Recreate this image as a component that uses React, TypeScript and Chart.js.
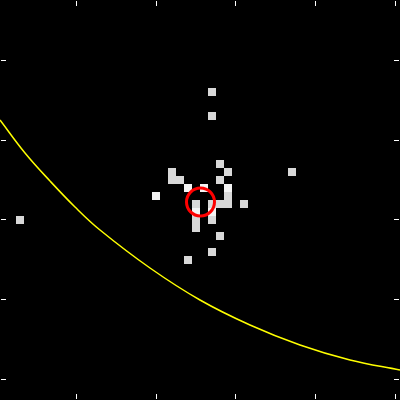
import React, { useEffect, useRef } from "react";
import { Chart, registerables } from "chart.js";

Chart.register(...registerables);

// Pixel cells (centre coordinates) of the image, grey level
const grayX = [212, 212, 292, 20, 172, 172, 180, 220, 228, 220, 228, 220, 228, 212, 244, 196, 196, 196, 212, 220, 212, 188];
const grayY = [92, 116, 172, 220, 172, 180, 180, 164, 172, 180, 196, 204, 204, 204, 204, 204, 220, 228, 220, 236, 252, 260];
const whiteX = [156, 188, 204, 228, 196, 212];
const whiteY = [196, 188, 188, 188, 212, 212];

// Red marker
const markerX = [200.5];
const markerY = [202];

// Yellow curve
const curveX = [0, 25, 50, 75, 100, 150, 200, 250, 300, 350, 400];
const curveY = [120, 153, 181, 207, 230, 268, 300, 325, 345, 360, 370];

// Tick marks
const xTicks = [76, 156, 235, 315, 395];
const yTicks = [60, 140, 219, 299, 379];

const zip = (xs: number[], ys: number[]) => xs.map((x, i) => ({ x, y: ys[i] }));

const tickPlugin = {
  id: "innerTicks",
  beforeDraw(chart: any) {
    const { ctx, width, height } = chart;
    ctx.save();
    ctx.fillStyle = "#000";
    ctx.fillRect(0, 0, width, height);
    ctx.restore();
  },
  afterDraw(chart: any) {
    const { ctx, chartArea } = chart;
    const xs = chart.scales.x;
    const ys = chart.scales.y;
    ctx.save();
    ctx.fillStyle = "#ffffff";
    const top = chartArea.top + 1;
    const bottom = chartArea.bottom - 1;
    const left = chartArea.left + 1;
    const right = chartArea.right - 1;
    for (const v of xTicks) {
      const px = Math.round(xs.getPixelForValue(v));
      ctx.fillRect(px, top, 1, 5);
      ctx.fillRect(px, bottom - 5, 1, 5);
    }
    for (const v of yTicks) {
      const py = Math.round(ys.getPixelForValue(v));
      ctx.fillRect(left, py, 5, 1);
      ctx.fillRect(right - 5, py, 5, 1);
    }
    ctx.restore();
  },
};

export default function App() {
  const ref = useRef<HTMLCanvasElement | null>(null);
  useEffect(() => {
    if (!ref.current) return;
    const chart = new Chart(ref.current, {
      type: "scatter",
      data: {
        datasets: [
          {
            label: "marker",
            data: zip(markerX, markerY),
            pointStyle: "circle",
            pointRadius: 14,
            borderWidth: 3,
            borderColor: "#ff0000",
            backgroundColor: "rgba(0,0,0,0)",
            order: 1,
          },
          {
            label: "curve",
            type: "line",
            data: zip(curveX, curveY),
            showLine: true,
            pointRadius: 0,
            tension: 0.4,
            borderColor: "#ffff00",
            borderWidth: 1.5,
            order: 2,
          } as any,
          {
            label: "white",
            data: zip(whiteX, whiteY),
            pointStyle: "rect",
            pointRadius: 4 / Math.SQRT1_2,
            borderWidth: 0,
            backgroundColor: "#f4f4f4",
            order: 3,
          },
          {
            label: "gray",
            data: zip(grayX, grayY),
            pointStyle: "rect",
            pointRadius: 4 / Math.SQRT1_2,
            borderWidth: 0,
            backgroundColor: "#d8d8d8",
            order: 4,
          },
        ],
      },
      options: {
        responsive: false,
        animation: false,
        layout: { padding: 0, autoPadding: false },
        plugins: { legend: { display: false }, tooltip: { enabled: false } },
        scales: {
          x: { type: "linear", min: 0, max: 400, display: false },
          y: { type: "linear", min: 0, max: 400, reverse: true, display: false },
        },
      },
      plugins: [tickPlugin],
    });
    return () => chart.destroy();
  }, []);
  return (
    <div style={{ position: "fixed", left: 0, top: 0, width: 400, height: 400 }}>
      <canvas ref={ref} width={400} height={400} style={{ display: "block", background: "#000" }} />
    </div>
  );
}
